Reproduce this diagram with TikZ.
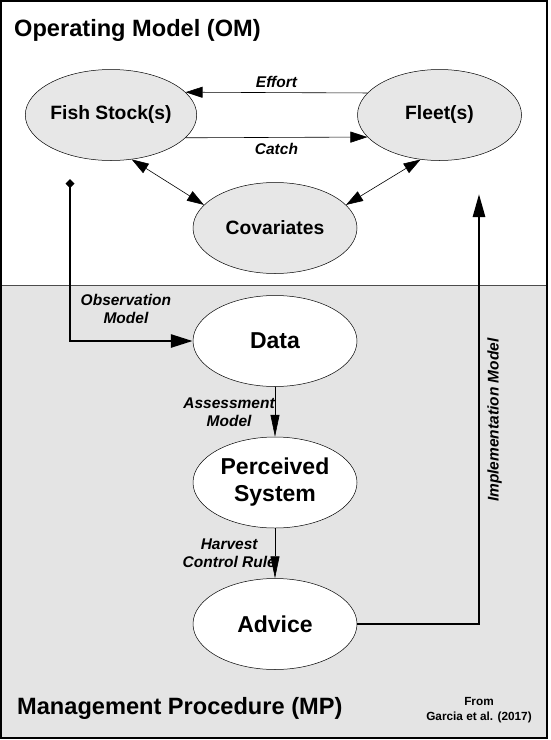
\documentclass[tikz,border=0pt]{standalone}
\usepackage{fontspec}
\setmainfont{Liberation Sans}
\usetikzlibrary{arrows.meta, shapes.geometric, calc}

\begin{document}
\begin{tikzpicture}[x=1pt, y=-1pt,
     blob/.style={draw,ellipse,minimum width=164pt,minimum height=91pt,inner sep=0pt,line width=0.5pt,align=center,font=\bfseries\fontsize{19.3}{22}\selectfont},
     omblob/.style={blob,fill=gray!19},
     mpblob/.style={blob,fill=white,font=\bfseries\fontsize{23}{27}\selectfont},
     lbl/.style={align=center,font=\bfseries\itshape\fontsize{15.5}{18}\selectfont},
     title/.style={anchor=west,inner sep=0pt,font=\bfseries\fontsize{23.6}{27}\selectfont},
     slimline/.style={line width=0.6pt},
     boldline/.style={line width=2.8pt}
     ]
%Size of the picture and the split between OM and MP
\def \xmax{547}
\def \ymax{738}
\def \ysplit{285}
\useasboundingbox (0,0) rectangle (550,740);

%Draw the two panels
\fill[gray!21] (1,\ysplit) rectangle (\xmax,\ymax);
\draw[gray!60!black,line width=0.9pt] (1,\ysplit) -- (\xmax,\ysplit);
\draw[line width=1.3pt] (1,1) rectangle (\xmax,\ymax);

%Panel titles
\node[title] (omtitle) at (14,30) {Operating Model (OM)};
\node[title] (mptitle) at (17,708) {Management Procedure (MP)};
\node[align=center,font=\bfseries\fontsize{11.8}{15}\selectfont] (src) at (479,710.5) {From\\Garcia et al. (2017)};

%Operating model
\node[omblob] (stock) at (111,115) {Fish Stock(s)};
\node[omblob] (fleet) at (439.5,115) {Fleet(s)};
\node[omblob] (covar) at (275,228) {Covariates};

%Management procedure, one under the other
\foreach [count=\i] \name/\txt in {data/Data,percsys/{Perceived\\System},advice/Advice}
{
\pgfmathsetmacro{\yc}{341+(\i-1)*141.5}
\node[mpblob] (\name) at (275,\yc) {\txt};
}

%Arrows inside the OM
\draw[slimline,-{Triangle[length=17pt,width=11pt]}] (fleet.163) -- node[lbl,above=1pt] {Effort} (stock.17);
\draw[slimline,-{Triangle[length=17pt,width=11pt]}] (stock.-17) -- node[lbl,below=2pt] {Catch} (fleet.197);
\draw[slimline,{Triangle[length=17pt,width=11pt]}-{Triangle[length=17pt,width=11pt]}] (stock.295) -- (covar.162);
\draw[slimline,{Triangle[length=17pt,width=11pt]}-{Triangle[length=17pt,width=11pt]}] (fleet.247) -- (covar.18);

%Arrows down the MP
\draw[slimline,-{Triangle[length=22pt,width=9pt]}] (data.south) -- node[lbl,left,inner sep=0pt] {Assessment\\Model} (percsys.north);
\draw[slimline,-{Triangle[length=22pt,width=9pt]}] (percsys.south) -- node[lbl,left,inner sep=0pt,xshift=1pt] {Harvest\\Control Rule} (advice.north);

%Links between the two panels
\coordinate (obsstart) at (70,179);
\coordinate (implend) at (479,194);
\draw[boldline,{Diamond[length=9pt,width=9pt]}-{Triangle[length=22pt,width=13pt]}] (obsstart) |- node[lbl,pos=0.4,right=6pt] {Observation\\Model} (data.west);
\draw[boldline,-{Triangle[length=23pt,width=12pt]}] (advice.east) -| node[lbl,pos=0.737,rotate=90,anchor=north,inner ysep=7pt] {Implementation Model} (implend);
\end{tikzpicture}
\end{document}
